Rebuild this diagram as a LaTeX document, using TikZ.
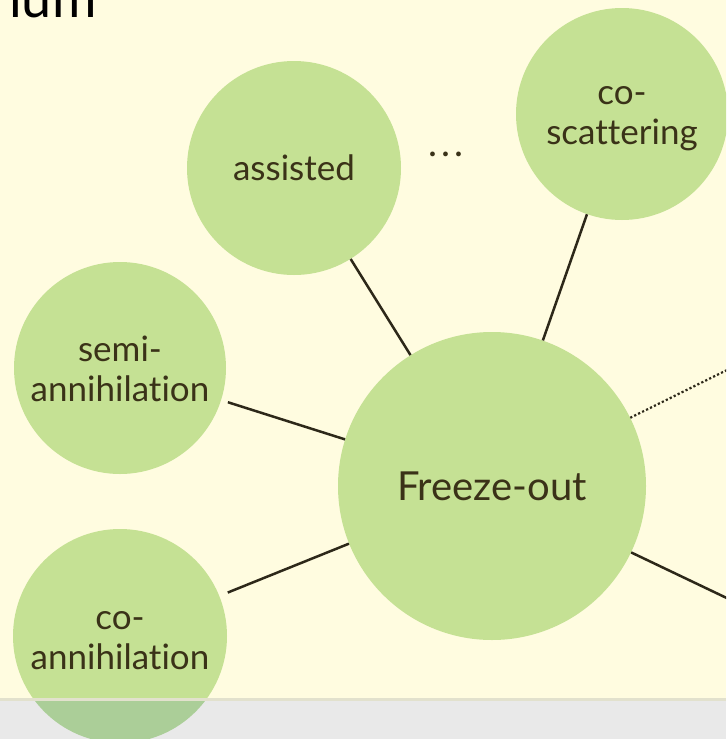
\documentclass[tikz,border=0pt]{standalone}
\usepackage{fontspec}
\setmainfont{Lato}[Ligatures={NoCommon,NoRare}]
\definecolor{bgyellow}{RGB}{255,252,224}
\definecolor{bubble}{RGB}{197,225,148}
\definecolor{bubbledim}{RGB}{171,206,152}
\definecolor{labeltext}{RGB}{58,50,24}
\definecolor{linkcol}{RGB}{45,40,25}
\definecolor{bandgray}{RGB}{233,233,233}
\definecolor{bandedge}{RGB}{226,225,205}
\tikzset{
  bubblenode/.style={circle, fill=bubble, draw=none, inner sep=0pt, align=center,
     text=labeltext, font=\fontsize{35}{40}\selectfont},
  link/.style={draw=linkcol, line width=2.5pt},
  dottedlink/.style={draw=linkcol, line width=2.2pt, dash pattern=on 2.2pt off 2.2pt}
}
\begin{document}
\begin{tikzpicture}[x=1pt,y=-1pt]
\useasboundingbox (0,0) rectangle (726,739);
\clip (0,0) rectangle (726,739);
\fill[bgyellow] (0,0) rectangle (726,739);

\node[anchor=base west, inner sep=0pt, text=black, font=\fontsize{54}{60}\selectfont] (title) at (9,17) {lum};

\node[bubblenode, minimum size=308pt, font=\fontsize{40}{46}\selectfont] (freeze) at (492,486) {Freeze-out};
\node[bubblenode, minimum size=214pt] (assisted) at (294,168) {assisted};
\node[bubblenode, minimum size=212pt] (cosc) at (622,114) {\strut co-\\scattering};
\node[bubblenode, minimum size=212pt] (semi) at (120,368) {\strut semi-\\annihilation};
\node[bubblenode, minimum size=214pt] (coann) at (120,636) {\strut co-\\annihilation};
\node[inner sep=0pt, text=labeltext, font=\fontsize{38}{40}\selectfont] (dots) at (446,154) {.\kern3.6pt.\kern3.6pt.};

\coordinate (offA) at (800,334);
\coordinate (offB) at (800,633);

\draw[link] (assisted) -- (freeze);
\draw[link] (cosc) -- (freeze);
\draw[link, shorten <=7pt] (semi) -- (freeze);
\draw[link, shorten <=9pt] (coann) -- (freeze);
\draw[dottedlink] (freeze) -- (offA);
\draw[link] (freeze) -- (offB);

% bottom band
\fill[bandgray] (0,699) rectangle (726,739);
\fill[bandedge] (0,697.5) rectangle (726,701);
\begin{scope}
  \clip (0,701) rectangle (726,739);
  \fill[bubbledim] (coann.center) circle (107);
\end{scope}
\end{tikzpicture}
\end{document}
